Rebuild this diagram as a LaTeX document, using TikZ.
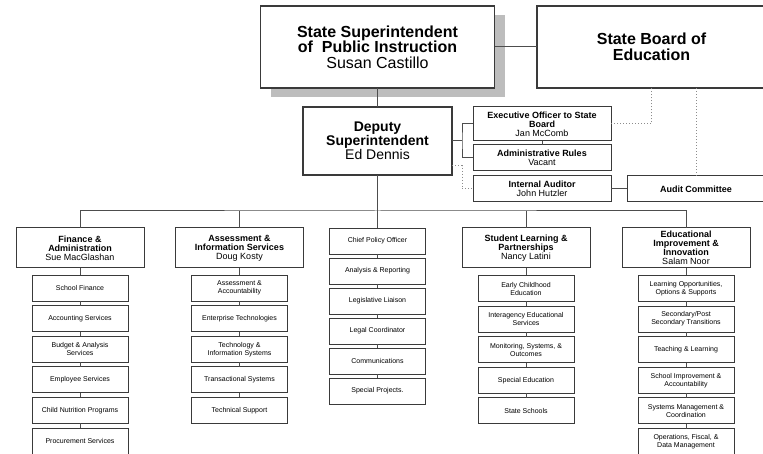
\documentclass[tikz,border=0pt]{standalone}
\usepackage{fontspec}
\setmainfont{Liberation Sans}
\usepackage{tikz}
\usetikzlibrary{positioning,shadows}
\definecolor{boxline}{HTML}{3A3A3A}
\definecolor{linkgrey}{HTML}{4D4D4D}
\definecolor{dotgrey}{HTML}{8C8C8C}
\definecolor{shadowgrey}{HTML}{BDBDBD}
\tikzset{topbox/.style={rectangle,draw=boxline,fill=white,line width=1.1pt,align=center,inner sep=1pt,outer sep=0pt,font=\bfseries\fontsize{16}{15.5}\selectfont}}
\tikzset{depbox/.style={rectangle,draw=boxline,fill=white,line width=1.1pt,align=center,inner sep=1pt,outer sep=0pt,font=\bfseries\fontsize{14}{14}\selectfont}}
\tikzset{staffbox/.style={rectangle,draw=boxline,fill=white,line width=1pt,align=center,inner sep=1pt,outer sep=0pt,minimum width=138pt,minimum height=26pt,font=\bfseries\fontsize{9}{9}\selectfont}}
\tikzset{headbox/.style={rectangle,draw=boxline,fill=white,line width=1pt,align=center,inner sep=1pt,outer sep=0pt,minimum width=128pt,minimum height=40pt,font=\bfseries\fontsize{9}{9}\selectfont}}
\tikzset{unitbox/.style={rectangle,draw=boxline,fill=white,line width=0.9pt,align=center,inner sep=1pt,outer sep=0pt,minimum width=96pt,minimum height=26pt,font=\fontsize{7}{8}\selectfont}}
\tikzset{orgline/.style={draw=linkgrey,line width=1pt}}
\tikzset{dotline/.style={draw=dotgrey,dotted,line width=1pt}}

\begin{document}
\begin{tikzpicture}[x=1pt,y=-1pt]
        \useasboundingbox (0,0) rectangle (763,454);
        \clip (0,0) rectangle (763,454);

        \node[topbox,minimum width=234pt,minimum height=82pt,drop shadow={shadow xshift=10pt,shadow yshift=-9pt,fill=shadowgrey,opacity=1}] (sup) at (377.5,47) {State Superintendent\\of~ Public Instruction\\{\mdseries Susan Castillo}};
        \node[topbox,minimum width=229pt,minimum height=82pt] (sbe) at (651.5,47) {State Board of\\Education};

        \node[depbox,minimum width=149pt,minimum height=68pt] (dep) at (377.5,141) {Deputy\\Superintendent\\{\mdseries Ed Dennis}};
        \node[staffbox,minimum height=34pt] (exec) at (542,124) {Executive Officer to State\\Board\\{\mdseries Jan McComb}};
        \node[staffbox,below=4pt of exec] (rules) {Administrative Rules\\{\mdseries Vacant}};
        \node[staffbox,below=5pt of rules] (auditor) {Internal Auditor\\{\mdseries John Hutzler}};
        \node[staffbox,right=16pt of auditor] (committee) {Audit Committee};

        \node[headbox] (fin) at (80,248) {Finance \&\\Administration\\{\mdseries Sue MacGlashan}};
        \node[unitbox,below=7pt of fin] (fin_1) {School Finance};
        \node[unitbox,below=4.6pt of fin_1] (fin_2) {Accounting Services};
        \node[unitbox,below=4.6pt of fin_2] (fin_3) {Budget \& Analysis\\Services};
        \node[unitbox,below=4.6pt of fin_3] (fin_4) {Employee Services};
        \node[unitbox,below=4.6pt of fin_4] (fin_5) {Child Nutrition Programs};
        \node[unitbox,below=4.6pt of fin_5] (fin_6) {Procurement Services};

        \node[headbox] (ais) at (239.5,248) {Assessment \&\\Information Services\\{\mdseries Doug Kosty}};
        \node[unitbox,below=7pt of ais] (ais_1) {Assessment \&\\Accountability};
        \node[unitbox,below=4.6pt of ais_1] (ais_2) {Enterprise Technologies};
        \node[unitbox,below=4.6pt of ais_2] (ais_3) {Technology \&\\Information Systems};
        \node[unitbox,below=4.6pt of ais_3] (ais_4) {Transactional Systems};
        \node[unitbox,below=4.6pt of ais_4] (ais_5) {Technical Support};

        \node[unitbox] (pol_1) at (377.5,241) {Chief Policy Officer};
        \node[unitbox,below=4pt of pol_1] (pol_2) {Analysis \& Reporting};
        \node[unitbox,below=4pt of pol_2] (pol_3) {Legislative Liaison};
        \node[unitbox,below=4pt of pol_3] (pol_4) {Legal Coordinator};
        \node[unitbox,below=4pt of pol_4] (pol_5) {Communications};
        \node[unitbox,below=4pt of pol_5] (pol_6) {Special Projects.};

        \node[headbox] (slp) at (526,248) {Student Learning \&\\Partnerships\\{\mdseries Nancy Latini}};
        \node[unitbox,below=7.5pt of slp] (slp_1) {Early Childhood\\Education};
        \node[unitbox,below=4.6pt of slp_1] (slp_2) {Interagency Educational\\Services};
        \node[unitbox,below=4.6pt of slp_2] (slp_3) {Monitoring, Systems, \&\\Outcomes};
        \node[unitbox,below=4.6pt of slp_3] (slp_4) {Special Education};
        \node[unitbox,below=4.6pt of slp_4] (slp_5) {State Schools};

        \node[headbox] (eii) at (686,248) {Educational\\Improvement \&\\Innovation\\{\mdseries Salam Noor}};
        \node[unitbox,below=7.5pt of eii] (eii_1) {Learning Opportunities,\\Options \& Supports};
        \node[unitbox,below=4.6pt of eii_1] (eii_2) {Secondary/Post\\Secondary Transitions};
        \node[unitbox,below=4.6pt of eii_2] (eii_3) {Teaching \& Learning};
        \node[unitbox,below=4.6pt of eii_3] (eii_4) {School Improvement \&\\Accountability};
        \node[unitbox,below=4.6pt of eii_4] (eii_5) {Systems Management \&\\Coordination};
        \node[unitbox,below=4.6pt of eii_5] (eii_6) {Operations, Fiscal, \&\\Data Management};

        \coordinate (brace) at (462,141);
        \coordinate (dv) at (462,166);
        \coordinate (bus) at (377.5,211);

        \draw[orgline] (sup) to (sbe);
        \draw[orgline] (sup) to (dep);
        \draw[orgline] (dep) to (brace);
        \draw[orgline] (exec.west) -| (brace) |- (rules.west);
        \draw[orgline] (exec) to (rules);
        \draw[orgline] (auditor) to (committee);
        \draw[dotline] (dv -| dep.east) -- (dv) |- (auditor.west);
        \draw[dotline] (exec.east) -| (sbe.south);
        \draw[dotline] (committee.north) -- (committee.north |- sbe.south);

        \draw[orgline] (dep) to (bus);
        \draw[orgline] (fin) |- (bus) -| (eii);
        \draw[orgline] (ais) -- (ais |- bus);
        \draw[orgline] (pol_1) -- (pol_1 |- bus);
        \draw[orgline] (slp) -- (slp |- bus);

        \draw[orgline] (fin) -- (fin_1) (fin_1) -- (fin_2) (fin_2) -- (fin_3) (fin_3) -- (fin_4) (fin_4) -- (fin_5) (fin_5) -- (fin_6);
        \draw[orgline] (ais) -- (ais_1) (ais_1) -- (ais_2) (ais_2) -- (ais_3) (ais_3) -- (ais_4) (ais_4) -- (ais_5);
        \draw[orgline] (pol_1) -- (pol_2) (pol_2) -- (pol_3) (pol_3) -- (pol_4) (pol_4) -- (pol_5) (pol_5) -- (pol_6);
        \draw[orgline] (slp) -- (slp_1) (slp_1) -- (slp_2) (slp_2) -- (slp_3) (slp_3) -- (slp_4) (slp_4) -- (slp_5);
        \draw[orgline] (eii) -- (eii_1) (eii_1) -- (eii_2) (eii_2) -- (eii_3) (eii_3) -- (eii_4) (eii_4) -- (eii_5) (eii_5) -- (eii_6);
    \end{tikzpicture}
\end{document}
